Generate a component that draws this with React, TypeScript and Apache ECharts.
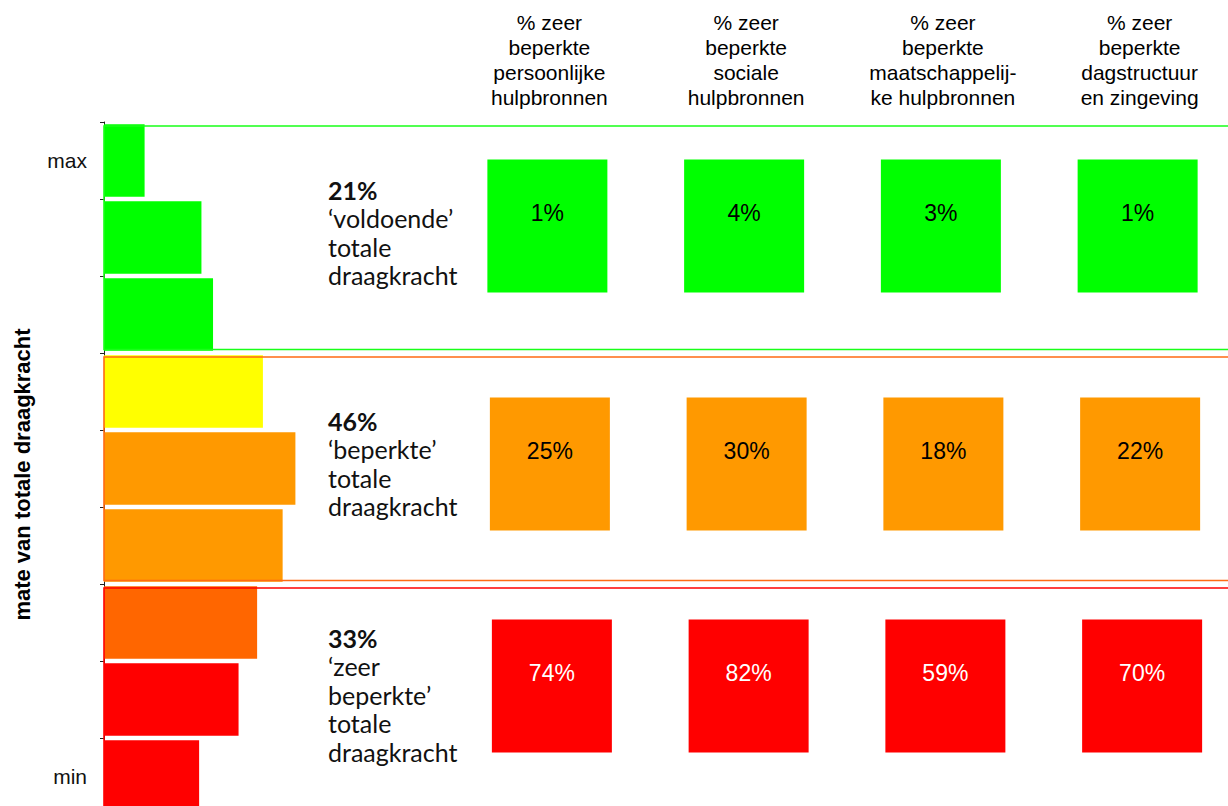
import React, { useEffect, useRef } from "react";
import * as echarts from "echarts";

// y categories: level of total coping capacity, top = max, bottom = min
const levelLabels = ["max", "", "", "", "", "", "", "", "min"];
// share of respondents per level (%)
const levelShare = [3.5, 8.4, 9.4, 13.7, 16.5, 15.4, 13.2, 11.6, 8.2];
const levelColors = ["#00ff00", "#00ff00", "#00ff00", "#ffff00", "#ff9900", "#ff9900", "#ff6600", "#ff0000", "#ff0000"];

// groups of levels
const groupNames = ["‘voldoende’", "‘beperkte’", "‘zeer\nbeperkte’"];
const groupShare = [21, 46, 33];
const groupStart = [0, 3, 6];
const groupEnd = [2, 5, 8];
const groupLineColors = ["#19ff19", "#ff6a13", "#ff0000"];
const groupBoxColors = ["#00ff00", "#ff9900", "#ff0000"];
const groupTextColors = ["#000000", "#000000", "#ffffff"];

// columns: resources
const resources = [
  "% zeer\nbeperkte\npersoonlijke\nhulpbronnen",
  "% zeer\nbeperkte\nsociale\nhulpbronnen",
  "% zeer\nbeperkte\nmaatschappelij-\nke hulpbronnen",
  "% zeer\nbeperkte\ndagstructuur\nen zingeving",
];
const pctVoldoende = [1, 4, 3, 1];
const pctBeperkt = [25, 30, 18, 22];
const pctZeerBeperkt = [74, 82, 59, 70];
const groupPct = [pctVoldoende, pctBeperkt, pctZeerBeperkt];

const ARIAL = "'Liberation Sans', Arial, Helvetica, sans-serif";
const LABEL_FONT = "Lato, 'Noto Sans', sans-serif";

// small per-row visual nudges of the boxes
const boxOffsets = [
  [-2, -11.5],
  [0.5, -4.5],
  [2.5, -13.5],
];

export default function App() {
  const ref = useRef<HTMLDivElement>(null);

  useEffect(() => {
    document.body.style.margin = "0";
    const chart = echarts.init(ref.current as HTMLDivElement, undefined, { renderer: "svg" });

    const boxData: any[] = [];
    groupPct.forEach((vals, g) => {
      const mid = Math.round((groupStart[g] + groupEnd[g]) / 2);
      vals.forEach((v, c) => {
        boxData.push({
          value: [c, mid, v],
          symbolOffset: boxOffsets[g],
          itemStyle: { color: groupBoxColors[g], opacity: 1 },
          label: { color: groupTextColors[g] },
        });
      });
    });

    const groupData = groupShare.map((s, g) => [0, groupStart[g], groupEnd[g], g]);

    const option: any = {
      animation: false,
      backgroundColor: "#ffffff",
      grid: [
        { left: 104, top: 122, width: 232, height: 693, containLabel: false, outerBoundsMode: "none" },
        { left: 451, top: 122, width: 787, height: 693, containLabel: false, outerBoundsMode: "none" },
      ],
      xAxis: [
        { type: "value", gridIndex: 0, min: 0, max: 20, show: false },
        {
          type: "category",
          gridIndex: 1,
          position: "top",
          data: resources,
          axisLine: { show: false },
          axisTick: { show: false },
          splitLine: { show: false },
          axisLabel: {
            interval: 0,
            margin: 12,
            fontFamily: ARIAL,
            fontSize: 21,
            lineHeight: 25,
            color: "#000",
            align: "center",
          },
        },
      ],
      yAxis: [
        {
          type: "category",
          gridIndex: 0,
          inverse: true,
          data: levelLabels,
          name: "mate van totale draagkracht",
          nameLocation: "middle",
          nameRotate: 90,
          nameGap: 71,
          nameTextStyle: {
            fontFamily: ARIAL,
            fontSize: 22,
            fontWeight: "bold",
            color: "#000",
            padding: [0, 12, 0, 0],
          },
          axisLine: { show: true, lineStyle: { color: "#222", width: 1 } },
          axisTick: { show: true, inside: false, length: 4, lineStyle: { color: "#222" } },
          axisLabel: { interval: 0, margin: 17, fontFamily: ARIAL, fontSize: 21, color: "#111" },
          splitLine: { show: false },
        },
        {
          type: "category",
          gridIndex: 1,
          inverse: true,
          data: levelLabels,
          show: false,
        },
      ],
      series: [
        {
          type: "bar",
          xAxisIndex: 0,
          yAxisIndex: 0,
          data: levelShare.map((v, i) => ({ value: v, itemStyle: { color: levelColors[i] } })),
          barCategoryGap: "6%",
          z: 2,
        },
        {
          type: "custom",
          xAxisIndex: 0,
          yAxisIndex: 0,
          z: 3,
          clip: false,
          data: groupData,
          encode: { x: 0, y: 1 },
          renderItem: (params: any, api: any) => {
            const i0 = api.value(1);
            const i1 = api.value(2);
            const g = api.value(3);
            const band = api.size([0, 1])[1];
            const p0 = api.coord([0, i0]);
            const p1 = api.coord([0, i1]);
            const top = p0[1] - band / 2 + 4;
            const bottom = p1[1] + band / 2 - 3.5;
            const left = p0[0];
            const right = api.getWidth() + 10;
            const lines = [
              `{b|${groupShare[g]}%}`,
              ...groupNames[g].split("\n").map((t) => `{n|${t}}`),
              "{n|totale}",
              "{n|draagkracht}",
            ];
            return {
              type: "group",
              children: [
                {
                  type: "rect",
                  shape: { x: left, y: top, width: right - left, height: bottom - top },
                  style: { fill: "none", stroke: groupLineColors[g], lineWidth: 1.6 },
                },
                {
                  type: "text",
                  x: left + 224,
                  y: (p0[1] + p1[1]) / 2 - 5,
                  style: {
                    text: lines.join("\n"),
                    align: "left",
                    verticalAlign: "middle",
                    fill: "#111",
                    rich: {
                      b: { fontFamily: LABEL_FONT, fontSize: 25, fontWeight: "bold", lineHeight: 28.5, fill: "#111" },
                      n: { fontFamily: LABEL_FONT, fontSize: 25, lineHeight: 28.5, fill: "#111" },
                    },
                  },
                },
              ],
            };
          },
        },
        {
          type: "scatter",
          xAxisIndex: 1,
          yAxisIndex: 1,
          symbol: "rect",
          symbolSize: [120, 133],
          data: boxData,
          z: 4,
          itemStyle: { opacity: 1 },
          label: {
            show: true,
            position: "inside",
            offset: [0, -13],
            fontFamily: ARIAL,
            fontSize: 23,
            formatter: (p: any) => `${p.value[2]}%`,
          },
        },
      ],
    };

    chart.setOption(option);
    return () => chart.dispose();
  }, []);

  return (
    <div
      ref={ref}
      style={{ position: "absolute", left: 0, top: 0, width: 1228, height: 806, background: "#fff" }}
    />
  );
}
